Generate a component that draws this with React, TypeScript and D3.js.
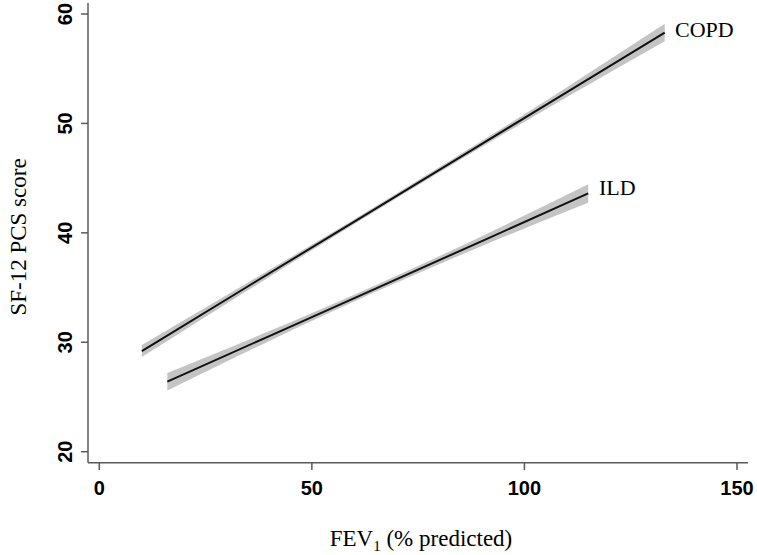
import React from "react";
import * as d3 from "d3";

const xTicks = [0, 50, 100, 150];
const yTicks = [20, 30, 40, 50, 60];

const copdX = [10, 35, 60, 85, 110, 133];
const copdFit = [29.2, 35.12, 41.03, 46.95, 52.86, 58.3];
const copdLo = [28.65, 34.77, 40.81, 46.7, 52.41, 57.5];
const copdHi = [29.75, 35.47, 41.25, 47.2, 53.31, 59.1];

const ildX = [16, 40, 65, 90, 115];
const ildFit = [26.4, 30.57, 34.91, 39.25, 43.6];
const ildLo = [25.6, 30.12, 34.61, 38.8, 42.75];
const ildHi = [27.2, 31.02, 35.21, 39.7, 44.45];

const W = 757;
const H = 555;

export default function App() {
  const x = d3.scaleLinear().domain([0, 150]).range([99.3, 737]);
  const y = d3.scaleLinear().domain([20, 60]).range([451.7, 14]);

  const area = d3
    .area<[number, number, number]>()
    .x((d) => x(d[0]))
    .y0((d) => y(d[1]))
    .y1((d) => y(d[2]))
    .curve(d3.curveMonotoneX);
  const line = d3
    .line<[number, number]>()
    .x((d) => x(d[0]))
    .y((d) => y(d[1]));

  const series = [
    { name: "COPD", xs: copdX, fit: copdFit, lo: copdLo, hi: copdHi },
    { name: "ILD", xs: ildX, fit: ildFit, lo: ildLo, hi: ildHi },
  ];

  const axisY0 = 462.7;
  const axisX0 = 88;
  const axisColor = "#5a5a5a";
  const tickFont = { fontFamily: "'Liberation Sans', Arial, sans-serif", fontWeight: 700, fontSize: 20 };
  const serif = "'Liberation Serif', 'Times New Roman', serif";

  return (
    <svg width={W} height={H} style={{ position: "absolute", left: 0, top: 0, background: "#fff" }}>
      <rect width={W} height={H} fill="#fff" />
      {series.map((s) => {
        const band = s.xs.map((v, i) => [v, s.lo[i], s.hi[i]] as [number, number, number]);
        const pts = s.xs.map((v, i) => [v, s.fit[i]] as [number, number]);
        return (
          <g key={s.name}>
            <path d={area(band) || ""} fill="#c4c4c4" />
            <path d={line(pts) || ""} fill="none" stroke="#111" strokeWidth={2} />
          </g>
        );
      })}
      {/* axes */}
      <line x1={axisX0} x2={axisX0} y1={3} y2={axisY0} stroke={axisColor} strokeWidth={1.5} />
      <line x1={axisX0} x2={748} y1={axisY0} y2={axisY0} stroke={axisColor} strokeWidth={1.5} />
      {yTicks.map((t) => (
        <g key={"y" + t}>
          <line x1={81} x2={axisX0} y1={y(t)} y2={y(t)} stroke={axisColor} strokeWidth={1.5} />
          <text
            transform={`translate(72,${y(t)}) rotate(-90)`}
            textAnchor="middle"
            {...tickFont}
            fill="#000"
          >
            {t}
          </text>
        </g>
      ))}
      {xTicks.map((t) => (
        <g key={"x" + t}>
          <line x1={x(t)} x2={x(t)} y1={axisY0} y2={470} stroke={axisColor} strokeWidth={1.5} />
          <text x={x(t)} y={495} textAnchor="middle" {...tickFont} fill="#000">
            {t}
          </text>
        </g>
      ))}
      {/* series labels */}
      <text x={675} y={37} fontFamily={serif} fontSize={22} fill="#000">
        COPD
      </text>
      <text x={599} y={195} fontFamily={serif} fontSize={22} fill="#000">
        ILD
      </text>
      {/* axis titles */}
      <text
        transform={`translate(26,237) rotate(-90)`}
        textAnchor="middle"
        fontFamily={serif}
        fontSize={23}
        fill="#000"
      >
        SF-12 PCS score
      </text>
      <text x={421} y={546} textAnchor="middle" fontFamily={serif} fontSize={23} fill="#000">
        FEV
        <tspan fontSize={15} dy={5}>1</tspan>
        <tspan dy={-5}> (% predicted)</tspan>
      </text>
    </svg>
  );
}
